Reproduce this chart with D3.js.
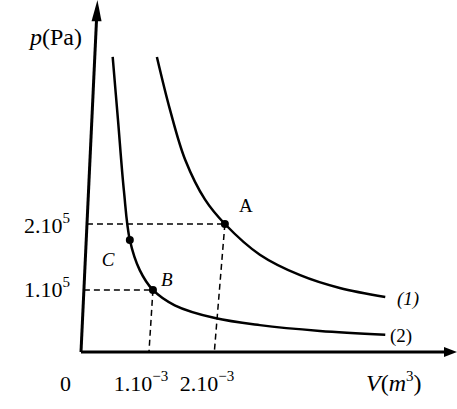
<!DOCTYPE html><html><head><meta charset="utf-8"><script src="https://cdn.jsdelivr.net/npm/d3@7"></script>
<style>body{margin:0;background:#fff}text{font-family:"Liberation Serif",serif;fill:#000}</style></head><body><svg id="c" width="457" height="409"></svg><script>
// V in 1e-3 m^3, p in 1e5 Pa
const curve1V=[1.15,1.35,1.58,1.88,2.18,2.71,3.32,3.92,4.61];
const curve1P=[4.61,3.78,3.00,2.38,2.00,1.52,1.20,1.00,0.86];
const curve2V=[0.48,0.56,0.65,0.74,0.89,1.09,1.42,2.03,2.71,3.62,4.61];
const curve2P=[4.61,3.63,2.52,1.75,1.28,0.97,0.73,0.53,0.42,0.33,0.27];
const points=[{n:"A",v:2.18,p:2.00,base:2.02,dx:14,dy:-12},{n:"B",v:1.09,p:0.97,base:1.03,dx:8,dy:-4},{n:"C",v:0.74,p:1.75,base:null,dx:-28,dy:26}];
const xTicks=[{v:1.0,t:"1.10",e:"−3"},{v:2.0,t:"2.10",e:"−3"}];
const yTicks=[{p:2,t:"2.10",e:"5"},{p:1,t:"1.10",e:"5"}];
const svg=d3.select("#c");
const x=d3.scaleLinear().domain([0,5]).range([81,411]);
const y=d3.scaleLinear().domain([0,5]).range([352,32]);
const axisSlant=0.24/5.3;
const ax=p=>x(axisSlant*p);
svg.append("line").attr("x1",x(0)).attr("y1",y(0)).attr("x2",448).attr("y2",y(0)).attr("stroke","#000").attr("stroke-width",3);
svg.append("path").attr("d",`M457,${y(0)}L444,${y(0)-5}L444,${y(0)+5}Z`);
svg.append("line").attr("x1",x(0)).attr("y1",y(0)).attr("x2",ax(5.2)).attr("y2",y(5.2)).attr("stroke","#000").attr("stroke-width",3);
svg.append("path").attr("d",`M${ax(5.5)},${y(5.5)}L${ax(5.2)-5},${y(5.2)+2}L${ax(5.2)+5},${y(5.2)+2}Z`);
points.forEach(d=>{
  if(d.base!=null){
    svg.append("line").attr("x1",ax(d.p)).attr("y1",y(d.p)).attr("x2",x(d.v)).attr("y2",y(d.p)).attr("stroke","#000").attr("stroke-width",1.5).attr("stroke-dasharray","6,4");
    svg.append("line").attr("x1",x(d.v)).attr("y1",y(d.p)).attr("x2",x(d.base)).attr("y2",y(0)).attr("stroke","#000").attr("stroke-width",1.5).attr("stroke-dasharray","6,4");
  }
});
const line=d3.line().x(d=>x(d[0])).y(d=>y(d[1])).curve(d3.curveCatmullRom);
[[curve1V,curve1P],[curve2V,curve2P]].forEach(([V,P])=>{
  svg.append("path").attr("d",line(V.map((v,i)=>[v,P[i]]))).attr("fill","none").attr("stroke","#000").attr("stroke-width",2.5);
});
points.forEach(d=>{
  svg.append("circle").attr("cx",x(d.v)).attr("cy",y(d.p)).attr("r",4);
  svg.append("text").attr("x",x(d.v)+d.dx).attr("y",y(d.p)+d.dy).attr("font-size",19).attr("font-style",d.n=="A"?"normal":"italic").text(d.n);
});
function sup(base,e,xx,yy,anchor){
  const g=svg.append("text").attr("x",xx).attr("y",yy).attr("font-size",22).attr("text-anchor",anchor);
  g.append("tspan").text(base);g.append("tspan").attr("dy",-10).attr("font-size",15).text(e);
}
yTicks.forEach(d=>sup(d.t,d.e,70,y(d.p)+9,"end"));
xTicks.forEach(d=>sup(d.t,d.e,x(d.v)-6,391,"middle"));
svg.append("text").attr("x",60).attr("y",391).attr("font-size",22).text("0");
const lab1=svg.append("text").attr("x",30).attr("y",45).attr("font-size",24);
lab1.append("tspan").attr("font-style","italic").text("p");lab1.append("tspan").text("(Pa)");
const lab2=svg.append("text").attr("x",366).attr("y",391).attr("font-size",24);
lab2.append("tspan").attr("font-style","italic").text("V");lab2.append("tspan").text("(");
lab2.append("tspan").attr("font-style","italic").text("m");lab2.append("tspan").attr("dy",-10).attr("font-size",15).text("3");
lab2.append("tspan").attr("dy",10).text(")");
svg.append("text").attr("x",397).attr("y",y(0.86)+8).attr("font-size",19).attr("font-style","italic").text("(1)");
svg.append("text").attr("x",390).attr("y",y(0.27)+7).attr("font-size",19).text("(2)");
</script></body></html>
